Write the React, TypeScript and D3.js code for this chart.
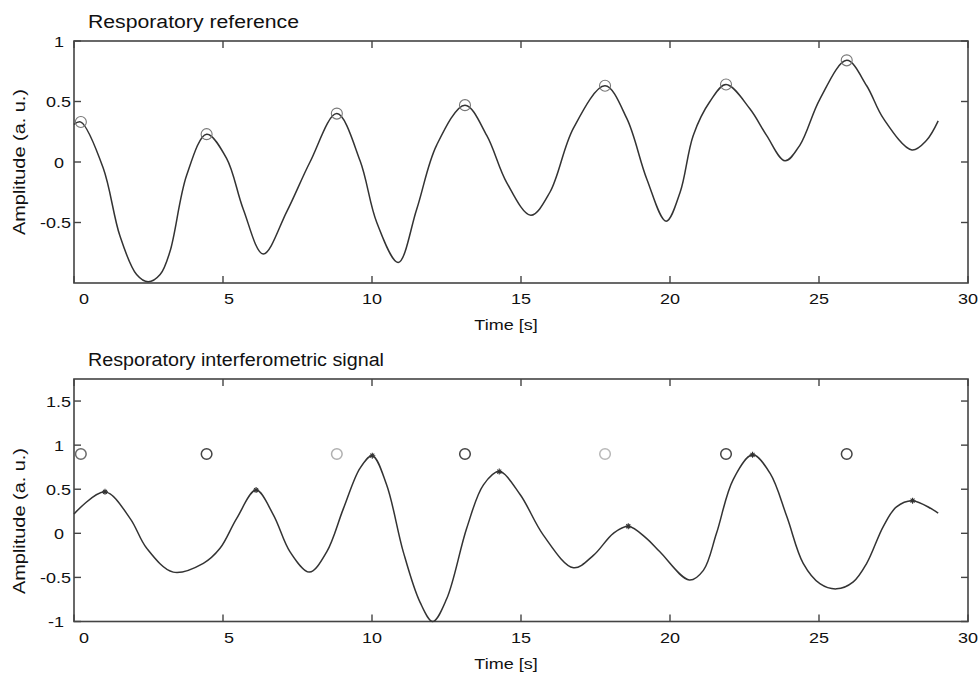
import React from 'react';
import * as d3 from 'd3';

// ---- Data ----
const refTime = [0, 0.23, 0.98, 1.54, 2.1, 2.49, 2.89, 3.22, 3.78, 4.45, 5.12, 5.68, 6.35, 7.14, 7.92, 8.82, 9.6, 10.16, 10.88, 11.5, 12.17, 13.12, 13.85, 14.52, 15.33, 15.97, 16.76, 17.82, 18.55, 19.22, 19.87, 20.34, 20.78, 21.34, 21.88, 22.68, 23.24, 23.86, 24.36, 25.03, 25.93, 26.6, 27.16, 28.12, 28.61, 29.0];
const refAmp = [0.31, 0.33, -0.05, -0.61, -0.93, -0.99, -0.93, -0.74, -0.11, 0.23, 0.03, -0.39, -0.76, -0.41, 0.0, 0.40, 0.01, -0.50, -0.83, -0.39, 0.14, 0.47, 0.22, -0.17, -0.44, -0.25, 0.28, 0.63, 0.36, -0.14, -0.49, -0.25, 0.22, 0.50, 0.64, 0.44, 0.22, 0.01, 0.14, 0.52, 0.84, 0.63, 0.36, 0.10, 0.18, 0.34];
const refPeakTime = [0.23, 4.45, 8.82, 13.12, 17.82, 21.88, 25.93];
const refPeakAmp = [0.33, 0.23, 0.40, 0.47, 0.63, 0.64, 0.84];

const sigTime = [0, 1.04, 1.88, 2.44, 3.33, 4.34, 4.9, 5.46, 6.11, 6.69, 7.25, 7.9, 8.48, 9.04, 9.6, 10.01, 10.49, 11.05, 11.61, 12.04, 12.51, 13.18, 13.74, 14.27, 14.97, 15.75, 16.76, 17.43, 18.1, 18.6, 19.22, 19.66, 20.65, 21.12, 21.56, 22.12, 22.77, 23.36, 23.92, 24.47, 25.03, 25.59, 26.15, 26.6, 27.16, 27.6, 28.14, 29.0];
const sigAmp = [0.22, 0.47, 0.17, -0.17, -0.44, -0.34, -0.17, 0.17, 0.49, 0.21, -0.21, -0.44, -0.21, 0.28, 0.74, 0.88, 0.55, -0.21, -0.78, -1.0, -0.74, 0.06, 0.55, 0.70, 0.44, -0.02, -0.39, -0.25, 0.0, 0.08, -0.06, -0.21, -0.53, -0.42, 0.0, 0.61, 0.89, 0.68, 0.19, -0.34, -0.57, -0.63, -0.55, -0.34, 0.08, 0.30, 0.37, 0.23];
const sigPeakTime = [1.04, 6.11, 10.01, 14.27, 18.6, 22.77, 28.14];
const sigPeakAmp = [0.47, 0.49, 0.88, 0.70, 0.08, 0.89, 0.37];
const sigRefMarkAmp = [0.9, 0.9, 0.9, 0.9, 0.9, 0.9, 0.9];

const xTicks = [0, 5, 10, 15, 20, 25, 30];
const refYTicks = [-0.5, 0, 0.5, 1];
const sigYTicks = [-1, -0.5, 0, 0.5, 1, 1.5];

// styles
const FONT = "'Liberation Sans', Arial, Helvetica, sans-serif";
const markShades = ['#6a6a6a', '#444', '#b0b0b0', '#444', '#b8b8b8', '#444', '#444'];
const LEFT = 74;
const RIGHT = 968;
const TICK = 7;
const SX = 1.2;

function SText({ x, y, children, anchor = 'start', size = 15, sx = SX, rotate = 0, baseline = 'auto' }: any) {
  return (
    <text
      transform={`translate(${x},${y}) rotate(${rotate}) scale(${sx},1)`}
      textAnchor={anchor}
      dominantBaseline={baseline}
      fontFamily={FONT}
      fontSize={size}
      fill="#111"
    >
      {children}
    </text>
  );
}

function Panel({ top, bottom, yDomain, yTicks, title, titleWidth, time, amp, children, labelY }: any) {
  const x = d3.scaleLinear().domain([0, 30]).range([LEFT, RIGHT]);
  const y = d3.scaleLinear().domain(yDomain).range([bottom, top]);
  const line = d3
    .line<number>()
    .x((_, i) => x(time[i]))
    .y((d) => y(d))
    .curve(d3.curveCatmullRom.alpha(0.5));
  return (
    <g>
      <text
        x={88}
        y={top - 13}
        fontFamily={FONT}
        fontSize={18}
        fill="#111"
        textLength={titleWidth}
        lengthAdjust="spacingAndGlyphs"
      >
        {title}
      </text>
      <rect x={LEFT} y={top} width={RIGHT - LEFT} height={bottom - top} fill="none" stroke="#444" strokeWidth={1.6} />
      {xTicks.map((t) => (
        <g key={'xt' + t}>
          <line x1={x(t)} x2={x(t)} y1={bottom} y2={bottom - TICK} stroke="#444" strokeWidth={1.4} />
          <line x1={x(t)} x2={x(t)} y1={top} y2={top + TICK} stroke="#444" strokeWidth={1.4} />
          <SText x={x(t) + (t === 0 ? 10 : t === 5 ? 6 : 0)} y={bottom + 21} anchor="middle">{String(t)}</SText>
        </g>
      ))}
      {yTicks.map((v: number) => (
        <g key={'yt' + v}>
          <line x1={LEFT} x2={LEFT + TICK} y1={y(v)} y2={y(v)} stroke="#444" strokeWidth={1.4} />
          <line x1={RIGHT} x2={RIGHT - TICK} y1={y(v)} y2={y(v)} stroke="#444" strokeWidth={1.4} />
          <SText x={String(v).includes('.') ? 71 : 64} y={y(v) + 5.5} anchor="end">{String(v)}</SText>
        </g>
      ))}
      <SText x={506} y={bottom + 47} anchor="middle">Time [s]</SText>
      <text
        transform={`translate(25,${labelY}) rotate(-90)`}
        textAnchor="middle"
        fontFamily={FONT}
        fontSize={17}
        fill="#111"
        textLength={146}
        lengthAdjust="spacingAndGlyphs"
      >
        Amplitude (a. u.)
      </text>
      <path d={line(amp) || ''} fill="none" stroke="#333" strokeWidth={1.5} />
      {children(x, y)}
    </g>
  );
}

export default function App() {
  return (
    <svg width={978} height={677} style={{ position: 'absolute', left: 0, top: 0, background: '#fff' }}>
      <rect width={978} height={677} fill="#fff" />
      <Panel top={41} bottom={283} yDomain={[-1, 1]} yTicks={refYTicks} title="Resporatory reference" titleWidth={211} time={refTime} amp={refAmp} labelY={162}>
        {(x: any, y: any) =>
          refPeakTime.map((t, i) => (
            <circle key={i} cx={x(t)} cy={y(refPeakAmp[i])} r={5.5} fill="none" stroke="#777" strokeWidth={1.1} />
          ))
        }
      </Panel>
      <Panel top={379} bottom={621.5} yDomain={[-1, 1.75]} yTicks={sigYTicks} title="Resporatory interferometric signal" titleWidth={296} time={sigTime} amp={sigAmp} labelY={521}>
        {(x: any, y: any) => (
          <g>
            {refPeakTime.map((t, i) => (
              <circle key={'c' + i} cx={x(t)} cy={y(sigRefMarkAmp[i])} r={5.3} fill="none" stroke={markShades[i]} strokeWidth={1.5} />
            ))}
            {sigPeakTime.map((t, i) => (
              <path
                key={'p' + i}
                transform={`translate(${x(t)},${y(sigPeakAmp[i])})`}
                d="M-3,0H3M0,-3V3M-2,-2L2,2M-2,2L2,-2"
                stroke="#333"
                strokeWidth={1.1}
                fill="none"
              />
            ))}
          </g>
        )}
      </Panel>
    </svg>
  );
}
